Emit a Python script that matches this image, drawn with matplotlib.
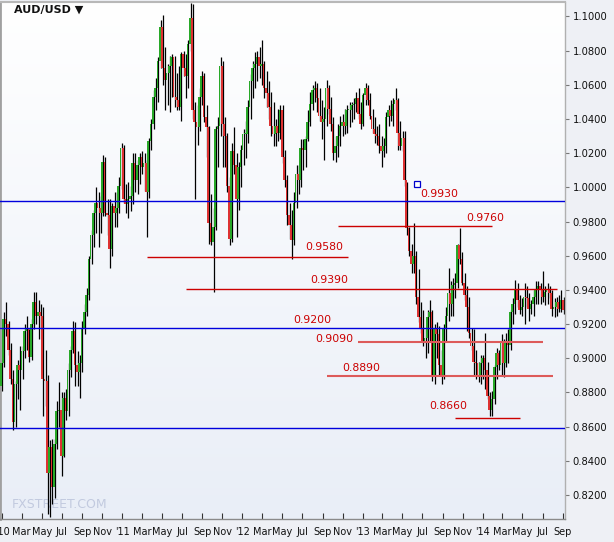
import numpy as np
import pandas as pd
import matplotlib
matplotlib.use("Agg")
import matplotlib.pyplot as plt
import matplotlib.dates as mdates
from matplotlib.colors import LinearSegmentedColormap

# ---------------- data ----------------
first_week = "2009-12-28"          # Monday of the first weekly bar
first_open = 0.884

highs = [
    .900, .927, .933, .922, .909, .893, .887, .899, .907, .907,
    .920, .925, .917, .923, .939, .939, .934, .932, .930, .905,
    .890, .852, .853, .853, .875, .886, .880, .880, .882, .897,
    .907, .922, .921, .904, .902, .922, .932, .941, .960, .975,
    .987, 1.000, .997, .995, 1.019, 1.018, .993, .993, .991, .997,
    .997, 1.006, 1.026, 1.025, 1.002, 1.003, 1.001, 1.020, 1.020, 1.016,
    1.020, 1.021, 1.020, 1.016, 1.029, 1.040, 1.057, 1.064, 1.076, 1.098,
    1.101, 1.082, 1.072, 1.077, 1.078, 1.077, 1.067, 1.071, 1.079, 1.080,
    1.078, 1.086, 1.108, 1.107, 1.050, 1.048, 1.058, 1.068, 1.067, 1.048,
    1.036, .996, .988, 1.036, 1.041, 1.076, 1.074, 1.041, 1.032, 1.006,
    1.026, 1.035, 1.020, 1.015, 1.025, 1.034, 1.039, 1.051, 1.066, 1.074,
    1.079, 1.080, 1.082, 1.086, 1.074, 1.068, 1.062, 1.056, 1.050, 1.040,
    1.046, 1.048, 1.048, 1.022, 1.007, .991, .987, .997, 1.013, 1.013,
    1.028, 1.028, 1.030, 1.045, 1.056, 1.060, 1.062, 1.061, 1.058, 1.051,
    1.047, 1.063, 1.060, 1.053, 1.041, 1.030, 1.037, 1.042, 1.043, 1.046,
    1.048, 1.050, 1.050, 1.052, 1.056, 1.058, 1.050, 1.055, 1.061, 1.060,
    1.055, 1.046, 1.041, 1.036, 1.037, 1.030, 1.029, 1.044, 1.048, 1.051,
    1.052, 1.058, 1.052, 1.039, 1.033, 1.033, 1.003, .977, .967, .979,
    .963, .952, .933, .928, .917, .928, .934, .928, .920, .921,
    .919, .905, .920, .930, .953, .945, .947, .950, .967, .976,
    .962, .950, .942, .936, .918, .917, .905, .898, .902, .902,
    .915, .898, .880, .881, .896, .906, .905, .914, .911, .915,
    .917, .928, .935, .946, .944, .937, .935, .944, .942, .938,
    .934, .940, .945, .945, .944, .951, .942, .944, .942, .940,
    .935, .936, .937, .940, .936,
]

lows = [
    .881, .895, .913, .902, .885, .858, .860, .876, .870, .888,
    .900, .905, .898, .899, .917, .920, .911, .918, .866, .872,
    .809, .807, .815, .818, .847, .860, .831, .842, .864, .866,
    .889, .903, .884, .884, .877, .892, .914, .925, .934, .955,
    .965, .973, .965, .973, .983, .983, .972, .953, .960, .977,
    .977, .985, .999, .991, .985, .982, .986, .990, .997, .996,
    1.002, 1.008, .998, .971, .994, 1.022, 1.034, 1.045, 1.050, 1.070,
    1.060, 1.045, 1.048, 1.044, 1.053, 1.047, 1.045, 1.045, 1.039, 1.065,
    1.052, 1.058, 1.080, 1.040, .993, 1.025, 1.033, 1.048, 1.038, 1.018,
    .967, .966, .939, .975, 1.012, 1.030, 1.012, 1.012, .997, .966,
    .968, 1.008, .971, .987, 1.000, 1.013, 1.017, 1.026, 1.040, 1.052,
    1.058, 1.062, 1.064, 1.060, 1.052, 1.047, 1.040, 1.030, 1.024, 1.024,
    1.027, 1.028, 1.014, 1.000, .978, .970, .958, .966, .988, .996,
    1.000, 1.010, 1.012, 1.027, 1.036, 1.045, 1.050, 1.044, 1.039, 1.028,
    1.016, 1.036, 1.043, 1.033, 1.016, 1.015, 1.018, 1.024, 1.030, 1.031,
    1.032, 1.035, 1.038, 1.040, 1.044, 1.040, 1.034, 1.036, 1.048, 1.048,
    1.040, 1.032, 1.026, 1.025, 1.020, 1.012, 1.018, 1.020, 1.036, 1.039,
    1.036, 1.045, 1.022, 1.022, 1.021, 1.001, .972, .960, .950, .950,
    .932, .921, .915, .907, .900, .903, .910, .887, .885, .900,
    .890, .885, .888, .910, .922, .925, .925, .935, .941, .955,
    .943, .934, .916, .912, .905, .890, .888, .886, .885, .888,
    .882, .876, .866, .866, .873, .888, .893, .890, .889, .895,
    .897, .905, .920, .926, .930, .926, .925, .920, .930, .922,
    .926, .925, .932, .932, .932, .933, .931, .932, .935, .925,
    .924, .925, .927, .927, .926,
]

closes = [
    .897, .923, .920, .905, .888, .863, .885, .896, .893, .904,
    .916, .918, .901, .920, .933, .925, .927, .925, .888, .887,
    .833, .848, .825, .850, .869, .870, .843, .877, .869, .893,
    .905, .916, .896, .892, .897, .917, .927, .937, .958, .972,
    .985, .991, .988, .985, 1.015, .985, .984, .964, .989, .985,
    .988, 1.001, 1.023, .993, .990, .993, .995, 1.014, 1.004, 1.013,
    1.018, 1.012, 1.014, .997, 1.027, 1.037, 1.053, 1.058, 1.074, 1.094,
    1.070, 1.063, 1.067, 1.071, 1.076, 1.053, 1.051, 1.047, 1.078, 1.070,
    1.065, 1.084, 1.099, 1.045, 1.038, 1.035, 1.053, 1.065, 1.041, 1.035,
    .979, .968, .977, 1.034, 1.036, 1.071, 1.037, 1.030, 1.001, .970,
    1.021, 1.013, .993, 1.012, 1.022, 1.031, 1.031, 1.047, 1.062, 1.070,
    1.072, 1.076, 1.071, 1.072, 1.058, 1.055, 1.047, 1.036, 1.031, 1.036,
    1.032, 1.045, 1.018, 1.004, .984, .978, .969, .991, 1.008, 1.004,
    1.023, 1.022, 1.028, 1.038, 1.049, 1.057, 1.058, 1.052, 1.042, 1.038,
    1.040, 1.058, 1.046, 1.037, 1.020, 1.024, 1.030, 1.036, 1.038, 1.036,
    1.045, 1.045, 1.048, 1.049, 1.052, 1.043, 1.037, 1.054, 1.058, 1.051,
    1.042, 1.034, 1.031, 1.030, 1.024, 1.021, 1.024, 1.041, 1.045, 1.042,
    1.049, 1.051, 1.032, 1.024, 1.029, 1.004, .976, .963, .955, .960,
    .936, .924, .917, .909, .912, .924, .927, .890, .917, .914,
    .896, .890, .918, .925, .938, .932, .943, .944, .966, .958,
    .944, .937, .930, .915, .907, .898, .897, .889, .897, .900,
    .893, .878, .870, .876, .895, .903, .896, .909, .897, .910,
    .908, .927, .932, .940, .934, .928, .930, .936, .935, .929,
    .932, .936, .940, .942, .940, .936, .939, .940, .938, .929,
    .930, .933, .929, .934, .928,
]

# support / resistance levels
blue_levels = [0.992, 0.918, 0.859]
red_levels = [0.9773, 0.9595, 0.9403, 0.9093, 0.8895, 0.8648]
red_starts = ["2012-10-17", "2011-03-16", "2011-07-13", "2012-12-17", "2012-09-13", "2013-10-08"]
red_ends = ["2014-01-28", "2012-11-16", "2014-08-14", "2014-07-02", "2014-08-01", "2014-04-23"]
red_label_text = ["0.9760", "0.9580", "0.9390", "0.9090", "0.8890", "0.8660"]
blue_label_text = ["0.9930", "0.9200"]

title = "AUD/USD \u25BC"
y_ticks = [0.82, 0.84, 0.86, 0.88, 0.90, 0.92, 0.94, 0.96, 0.98, 1.00,
           1.02, 1.04, 1.06, 1.08, 1.10]

# ---------------- figure ----------------
W, H = 614, 542
fig = plt.figure(figsize=(W / 100, H / 100), dpi=100, facecolor="#eef0f5")
ax = fig.add_axes([0 / W, 23 / H, 565 / W, 517 / H])

xmin = mdates.date2num(pd.Timestamp("2009-12-25"))
xmax = mdates.date2num(pd.Timestamp("2014-09-07 07:00"))
ymin, ymax = 0.8060, 1.1084

# gradient background
grad = np.linspace(0, 1, 256).reshape(-1, 1)
cmap = LinearSegmentedColormap.from_list("bg", ["#e9eef7", "#ffffff"])
ax.imshow(grad, extent=[xmin, xmax, ymin, ymax], origin="lower",
          aspect="auto", cmap=cmap, zorder=0, interpolation="bilinear")

dates = pd.date_range(first_week, periods=len(closes), freq="7D")
x = mdates.date2num(dates)
c = np.array(closes)
o = np.concatenate([[first_open], c[:-1]])
h = np.array(highs)
l = np.array(lows)
up = c >= o
green, red = "#28a828", "#dd3232"

ax.vlines(x + 2.4, l, h, color="black", lw=0.9, zorder=2)
bottoms = np.minimum(o, c)
heights = np.maximum(np.abs(c - o), 0.0008)
ax.bar(x - 0.4, heights, bottom=bottoms, width=5.0,
       color=np.where(up, green, red), linewidth=0, zorder=3)

# horizontal level lines
for lv in blue_levels:
    ax.axhline(lv, color="#0000dd", lw=1.0, zorder=4)
for lv, s, e in zip(red_levels, red_starts, red_ends):
    thick = lv in (0.9093, 0.8895)
    ax.hlines(lv, mdates.date2num(pd.Timestamp(s)), mdates.date2num(pd.Timestamp(e)),
              color="#dd5a5a" if thick else "#cc0000", lw=1.5 if thick else 1.0,
              zorder=4)

# labels
label_pos = {
    "0.9930": ("2013-06-23", 0.9963),
    "0.9760": ("2013-11-10", 0.9820),
    "0.9580": ("2012-07-11", 0.9651),
    "0.9390": ("2012-07-24", 0.9458),
    "0.9200": ("2012-06-02", 0.9224),
    "0.9090": ("2012-08-08", 0.9113),
    "0.8890": ("2012-10-29", 0.8943),
    "0.8660": ("2013-07-21", 0.8720),
}
for txt in blue_label_text + red_label_text:
    d, yv = label_pos[txt]
    ax.text(mdates.date2num(pd.Timestamp(d)), yv, txt, color="#cc0000",
            fontsize=7.8, va="center", ha="left", zorder=5)

# small handle square
ax.plot([mdates.date2num(pd.Timestamp("2013-06-14"))], [1.0019], marker="s",
        ms=4, mfc="white", mec="#0000cc", mew=0.9, zorder=6)

ax.text(14 / 565, 0.995, title, transform=ax.transAxes, fontsize=8,
        fontweight="bold", va="top", ha="left", color="#111111", zorder=6)
ax.text(12 / 565, 14 / 517, "FXSTREET.COM", transform=ax.transAxes,
        fontsize=9, color="#c2cadf", va="center", ha="left", zorder=1)

ax.set_xlim(xmin, xmax)
ax.set_ylim(ymin, ymax)

ax.yaxis.tick_right()
ax.set_yticks(y_ticks)
ax.set_yticklabels([f"{v:.4f}" for v in y_ticks])
ax.tick_params(axis="y", direction="out", length=3, width=0.8, colors="#777777",
               labelcolor="#111111", labelsize=7.2, pad=2.5)

ax.xaxis.set_major_locator(mdates.MonthLocator(bymonth=(1, 3, 5, 7, 9, 11)))
def fmt(v, pos=None):
    d = mdates.num2date(v)
    return "'" + d.strftime("%y") if d.month == 1 else d.strftime("%b")
ax.xaxis.set_major_formatter(plt.FuncFormatter(fmt))
ax.tick_params(axis="x", direction="in", length=4, width=0.8, colors="#333333",
               labelcolor="#111111", labelsize=7, pad=5.5)

for side, col, lw in [("left", "#a0a0a0", 2.0), ("top", "#b8b8b8", 1.5),
                      ("right", "#b0b0b0", 1.0), ("bottom", "#8a8a8a", 1.0)]:
    ax.spines[side].set_color(col)
    ax.spines[side].set_linewidth(lw)

fig.savefig("out.png", dpi=100, facecolor=fig.get_facecolor())
